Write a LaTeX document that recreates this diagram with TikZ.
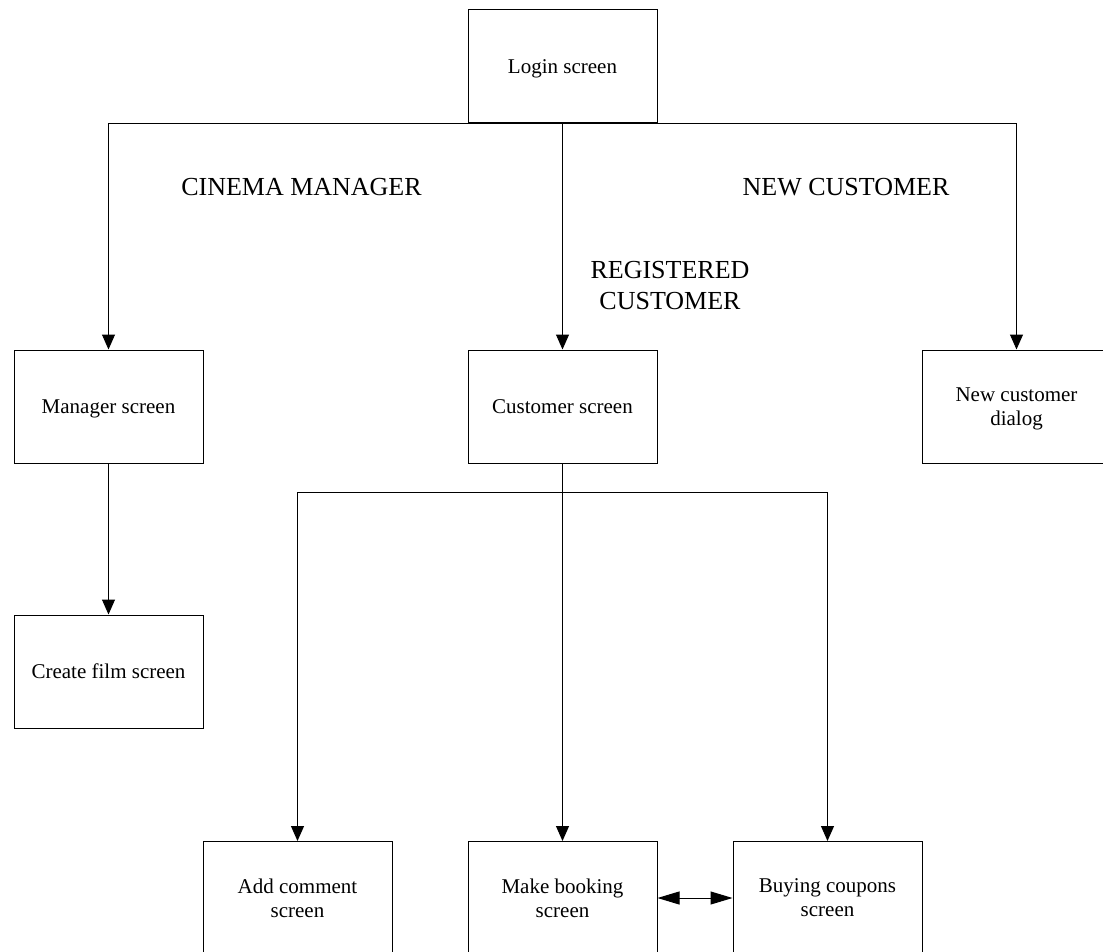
\documentclass[tikz,border=0pt]{standalone}
\usepackage{fontspec}
\setmainfont{Liberation Serif}
\usetikzlibrary{arrows.meta}
\begin{document}
\begin{tikzpicture}[x=1pt,y=-1pt,
  screenbox/.style={draw=black, line width=1pt, minimum width=189pt, minimum height=113pt,
    inner sep=0pt, text depth=0pt, align=center, font=\fontsize{21}{24}\selectfont},
  rolelabel/.style={inner sep=0pt, align=center, font=\fontsize{26}{31}\selectfont},
  link/.style={draw=black, line width=1pt},
  flow/.style={link, -{Triangle[length=15pt,width=13pt]}},
  both/.style={link, {Triangle[length=22pt,width=13pt]}-{Triangle[length=22pt,width=13pt]}}]
\clip (0,0) rectangle (1103,952);
\useasboundingbox (0,0) rectangle (1103,952);

% screens
\node[screenbox] (login) at (562.5,66.5) {Login screen};
\node[screenbox] (mgr)   at (108.5,406.5) {Manager screen};
\node[screenbox] (cust)  at (562.5,406.5) {Customer screen};
\node[screenbox] (newc)  at (1016.5,406.5) {New customer\\dialog};
\node[screenbox] (film)  at (108.5,671.5) {Create film screen};
\node[screenbox] (comm)  at (297.5,898) {Add comment\\screen};
\node[screenbox] (book)  at (562.5,898) {Make booking\\screen};
\node[screenbox] (coup)  at (827.5,898) {Buying coupons\\screen};

% role labels
\node[rolelabel, anchor=base] (lblmgr) at (301.5,196) {CINEMA MANAGER};
\node[rolelabel, anchor=base] (lblnew) at (846,196) {NEW CUSTOMER};
\node[rolelabel, anchor=base] (lblreg) at (670,278) {REGISTERED};
\node[rolelabel, anchor=base] (lblreg2) at (670,309) {CUSTOMER};

% branch points
\coordinate (top) at (login.south |- 0,124);
\coordinate (mid) at (cust.south |- 0,492.5);

% login branches
\draw[flow] (login.south) -- (top) -| (mgr.north);
\draw[flow] (top) -| (newc.north);
\draw[flow] (top) -- (cust.north);

% manager branch
\draw[flow] (mgr.south) -- (film.north);

% customer branches
\draw[flow] (cust.south) -- (mid) -| (comm.north);
\draw[flow] (mid) -| (coup.north);
\draw[flow] (mid) -- (book.north);

% booking <-> coupons
\draw[both] (book.east) -- (coup.west);
\end{tikzpicture}
\end{document}
